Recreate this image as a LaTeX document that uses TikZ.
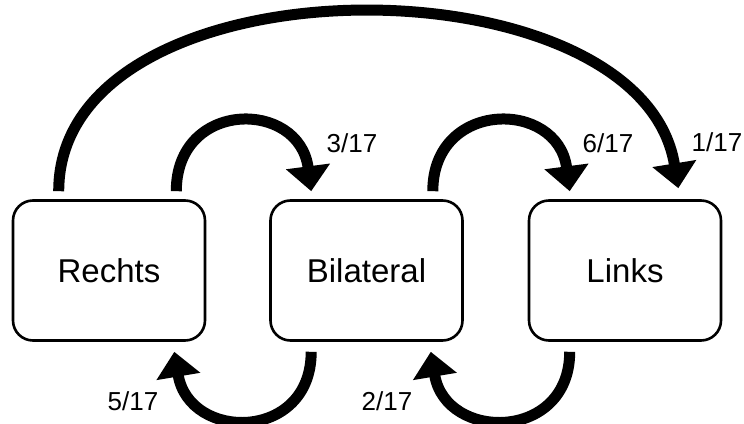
\documentclass[tikz,border=0pt]{standalone}
\usepackage{fontspec}
\setmainfont{Liberation Sans}
\usetikzlibrary{arrows.meta}

\tikzset{
    seite/.style={draw, line width=2.6pt, rounded corners=20pt, minimum width=192pt, minimum height=140pt, font=\fontsize{33}{39}\selectfont},
    wechsel/.style={line width=11pt, -{Triangle[width=43pt, length=25pt]}},
    anteil/.style={font=\fontsize{26}{31}\selectfont}
}

\begin{document}
\begin{tikzpicture}[x=1pt, y=1pt]
            \useasboundingbox (0, 0) rectangle (744, 423);
            \node[seite] (rechts) at (109, 152.5) {Rechts};
            \node[seite] (bilateral) at (366.5, 152.5) {Bilateral};
            \node[seite] (links) at (625, 152.5) {Links};
            % oben: von links nach rechts
            \draw[wechsel] ([xshift=47pt, yshift=8pt]rechts.north west) .. controls +(0, 237) and +(-38, 234) .. ([xshift=-44pt, yshift=11pt]links.north east);
            \draw[wechsel] ([xshift=-30pt, yshift=8pt]rechts.north east) .. controls +(0, 92) and +(-12, 92) .. ([xshift=42pt, yshift=8pt]bilateral.north west);
            \draw[wechsel] ([xshift=-31pt, yshift=8pt]bilateral.north east) .. controls +(0, 92) and +(-12, 92) .. ([xshift=42pt, yshift=8pt]links.north west);
            % unten: zurueck
            \draw[wechsel] ([xshift=42pt, yshift=-10pt]bilateral.south west) .. controls +(0, -90) and +(15, -90) .. ([xshift=-32pt, yshift=-10pt]rechts.south east);
            \draw[wechsel] ([xshift=42pt, yshift=-10pt]links.south west) .. controls +(0, -90) and +(15, -90) .. ([xshift=-33pt, yshift=-10pt]bilateral.south east);
            \node[anteil] (a1) at (352, 280) {3/17};
            \node[anteil] (a2) at (608, 280) {6/17};
            \node[anteil] (a3) at (717, 281) {1/17};
            \node[anteil] (a4) at (133, 22) {5/17};
            \node[anteil] (a5) at (387, 22) {2/17};
        \end{tikzpicture}
\end{document}
